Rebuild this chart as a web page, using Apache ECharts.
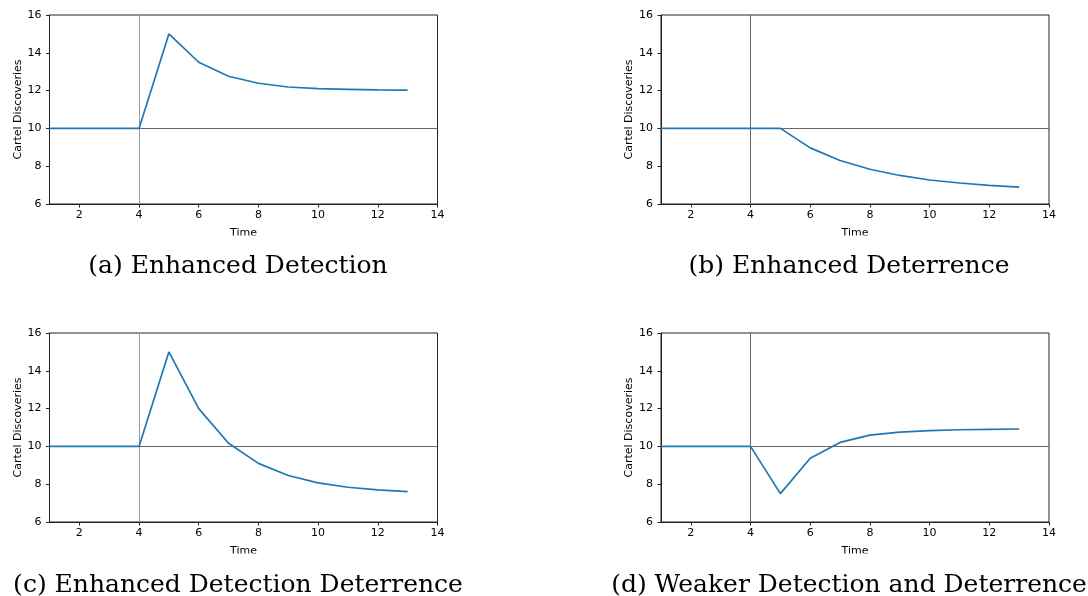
<!DOCTYPE html>
<html>
<head>
<meta charset="utf-8">
<script src="https://cdn.jsdelivr.net/npm/echarts@6/dist/echarts.min.js"></script>
<style>
  html, body { margin: 0; padding: 0; background: #fff; }
  #chart { width: 1088px; height: 596px; }
</style>
</head>
<body>
<div id="chart"></div>
<script>
const time = [1, 2, 3, 4, 5, 6, 7, 8, 9, 10, 11, 12, 13];

const detection = [10, 10, 10, 10, 15, 13.5, 12.76, 12.39, 12.19, 12.1, 12.07, 12.04, 12.02];
const deterrence = [10, 10, 10, 10, 10, 8.97, 8.3, 7.84, 7.51, 7.27, 7.11, 6.99, 6.89];
const detectionDeterrence = [10, 10, 10, 10, 15, 12, 10.17, 9.1, 8.46, 8.07, 7.84, 7.7, 7.61];
const weaker = [10, 10, 10, 10, 7.5, 9.37, 10.21, 10.6, 10.76, 10.83, 10.88, 10.9, 10.92];

const captions = [
  '(a) Enhanced Detection',
  '(b) Enhanced Deterrence',
  '(c) Enhanced Detection Deterrence',
  '(d) Weaker Detection and Deterrence'
];

const xTicks = [2, 4, 6, 8, 10, 12, 14];
const baseline = 10;
const shockTime = 4;

const seriesValues = [detection, deterrence, detectionDeterrence, weaker];

// panel boxes in px
const panels = [
  { left: 49.5, top: 15, vColor: '#9a9a9a' },
  { left: 661, top: 15, vColor: '#666' },
  { left: 49.5, top: 333, vColor: '#9a9a9a' },
  { left: 661, top: 333, vColor: '#666' }
];
const panelW = 388;
const panelH = 189;

const tickFont = { fontFamily: 'DejaVu Sans', fontSize: 11, color: '#000' };
const frame = { color: '#222', width: 1 };

const chart = echarts.init(document.getElementById('chart'));

const option = {
  animation: false,
  grid: panels.map(p => ({
    left: p.left,
    top: p.top,
    width: panelW,
    height: panelH,
    show: true,
    borderColor: '#222',
    borderWidth: 1
  })),
  xAxis: panels.map((p, i) => ({
    gridIndex: i,
    type: 'value',
    min: 1,
    max: 14,
    axisLine: { onZero: false, lineStyle: frame },
    axisTick: { length: 3.5, lineStyle: frame, customValues: xTicks },
    axisLabel: Object.assign({ margin: 6, customValues: xTicks }, tickFont),
    splitLine: { show: false },
    name: 'Time',
    nameLocation: 'middle',
    nameGap: 24,
    nameTextStyle: tickFont
  })),
  yAxis: panels.map((p, i) => ({
    gridIndex: i,
    type: 'value',
    min: 6,
    max: 16,
    interval: 2,
    axisLine: { onZero: false, lineStyle: frame },
    axisTick: { length: 3.5, lineStyle: frame },
    axisLabel: Object.assign({ margin: 8 }, tickFont),
    splitLine: { show: false },
    name: 'Cartel Discoveries',
    nameLocation: 'middle',
    nameRotate: 90,
    nameGap: 26,
    nameTextStyle: tickFont
  })),
  series: seriesValues.map((vals, i) => ({
    type: 'line',
    xAxisIndex: i,
    yAxisIndex: i,
    z: 10,
    symbol: 'none',
    lineStyle: { color: '#1f77b4', width: 1.7 },
    data: time.map((t, k) => [t, vals[k]]),
    markLine: {
      silent: true,
      z: 1,
      symbol: 'none',
      label: { show: false },
      data: [
        { xAxis: shockTime, lineStyle: { color: panels[i].vColor, width: 1, type: 'solid' } },
        { yAxis: baseline, lineStyle: { color: '#666', width: 1, type: 'solid' } }
      ]
    }
  })),
  graphic: [
    // the x axis name is cut off under each row, as in the source figure
    { type: 'rect', z: 100, shape: { x: 0, y: 235.5, width: 1088, height: 11 }, style: { fill: '#fff' } },
    { type: 'rect', z: 100, shape: { x: 0, y: 553.5, width: 1088, height: 9 }, style: { fill: '#fff' } }
  ].concat(captions.map((c, i) => ({
    type: 'text',
    z: 101,
    x: i % 2 === 0 ? 238 : 849,
    y: i < 2 ? 266 : 585,
    style: {
      text: c,
      fontFamily: 'DejaVu Serif',
      fontSize: 25,
      fill: '#000',
      align: 'center',
      verticalAlign: 'middle'
    }
  })))
};

chart.setOption(option);
</script>
</body>
</html>
